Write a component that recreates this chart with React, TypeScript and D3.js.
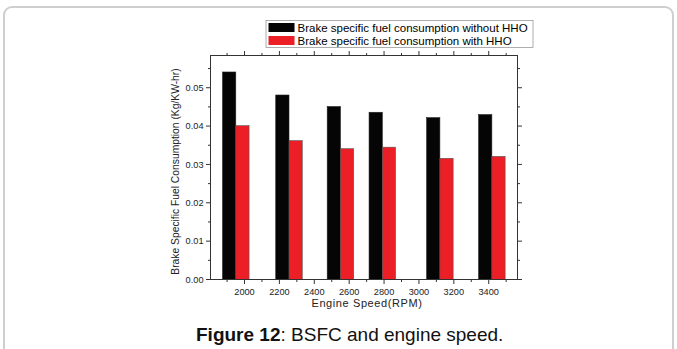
import React from 'react';
import * as d3 from 'd3';

// values
const rpm = [1950, 2255, 2550, 2790, 3120, 3418]; // where each pair of bars meets
const bsfcWithout = [0.0541, 0.0481, 0.0451, 0.0436, 0.0422, 0.043];
const bsfcWith = [0.0401, 0.0362, 0.0341, 0.0345, 0.0316, 0.0321];
const xTickLabels = [2000, 2200, 2400, 2600, 2800, 3000, 3200, 3400];
const yTickLabels = [0, 0.01, 0.02, 0.03, 0.04, 0.05];
const legendLabels = [
  'Brake specific fuel consumption without HHO',
  'Brake specific fuel consumption with HHO',
];

const W = 677;
const H = 349;
const FONT = '"Liberation Sans", Arial, sans-serif';
const BLACK = '#050505';
const RED = '#ec1f26';
const AXIS = '#333';

const plot = { left: 210.5, right: 517.5, top: 55.5, bottom: 279.5 };
const barW = 76; // in rpm units

export default function App() {
  const x = d3.scaleLinear().domain([1805, 3565]).range([plot.left, plot.right]);
  const y = d3.scaleLinear().domain([0, 0.0584]).range([plot.bottom, plot.top]);

  const xMinor = d3.range(1900, 3600, 200);
  const yMinor = d3.range(0.005, 0.058, 0.01);

  return (
    <svg
      width={W}
      height={H}
      style={{ position: 'absolute', left: 0, top: 0, background: '#fff' }}
      fontFamily={FONT}
    >
      {/* page frame */}
      <rect x={4} y={7} width={W - 8} height={H + 20} rx={8} fill="none" stroke="#cfcfcf" strokeWidth={2} />

      {/* bars */}
      {rpm.map((r, i) => (
        <g key={r}>
          <rect
            x={x(r - barW)}
            y={y(bsfcWithout[i])}
            width={x(r) - x(r - barW)}
            height={y(0) - y(bsfcWithout[i])}
            fill={BLACK}
            stroke="#222"
            strokeWidth={0.6}
          />
          <rect
            x={x(r)}
            y={y(bsfcWith[i])}
            width={x(r + barW) - x(r)}
            height={y(0) - y(bsfcWith[i])}
            fill={RED}
            stroke="#555"
            strokeWidth={0.6}
          />
        </g>
      ))}

      {/* frame */}
      <rect
        x={plot.left}
        y={plot.top}
        width={plot.right - plot.left}
        height={plot.bottom - plot.top}
        fill="none"
        stroke={AXIS}
        strokeWidth={1}
      />

      {/* x ticks, bottom and top */}
      {xTickLabels.map((t) => (
        <g key={'xt' + t}>
          <line x1={x(t)} x2={x(t)} y1={plot.bottom} y2={plot.bottom + 4.5} stroke={AXIS} />
          <line x1={x(t)} x2={x(t)} y1={plot.top} y2={plot.top - 4.5} stroke={AXIS} />
          <text x={x(t)} y={plot.bottom + 15} fontSize={9.2} textAnchor="middle" fill="#222">
            {t}
          </text>
        </g>
      ))}
      {xMinor.map((t) => (
        <g key={'xm' + t}>
          <line x1={x(t)} x2={x(t)} y1={plot.bottom} y2={plot.bottom + 2.5} stroke={AXIS} />
          <line x1={x(t)} x2={x(t)} y1={plot.top} y2={plot.top - 2.5} stroke={AXIS} />
        </g>
      ))}

      {/* y ticks, left and right */}
      {yTickLabels.map((t) => (
        <g key={'yt' + t}>
          <line x1={plot.left} x2={plot.left - 4.5} y1={y(t)} y2={y(t)} stroke={AXIS} />
          <line x1={plot.right} x2={plot.right + 4.5} y1={y(t)} y2={y(t)} stroke={AXIS} />
          <text x={plot.left - 7} y={y(t) + 3.2} fontSize={9.2} textAnchor="end" fill="#222">
            {d3.format('.2f')(t)}
          </text>
        </g>
      ))}
      {yMinor.map((t) => (
        <g key={'ym' + t}>
          <line x1={plot.left} x2={plot.left - 2.5} y1={y(t)} y2={y(t)} stroke={AXIS} />
          <line x1={plot.right} x2={plot.right + 2.5} y1={y(t)} y2={y(t)} stroke={AXIS} />
        </g>
      ))}

      {/* axis titles */}
      <text
        x={(plot.left + plot.right) / 2 + 3}
        y={307}
        fontSize={11}
        letterSpacing={0.6}
        textAnchor="middle"
        fill="#222"
      >
        Engine Speed(RPM)
      </text>
      <text
        transform={`translate(179, ${(plot.top + plot.bottom) / 2 + 4}) rotate(-90)`}
        fontSize={10.3}
        textAnchor="middle"
        fill="#222"
      >
        Brake Specific Fuel Consumption (Kg/KW-hr)
      </text>

      {/* legend */}
      <rect x={266} y={20.5} width={267} height={27} fill="#fff" stroke="#999" strokeWidth={0.8} />
      {legendLabels.map((label, i) => (
        <g key={label}>
          <rect x={268.5} y={23 + i * 13} width={26} height={9} fill={i === 0 ? BLACK : RED} />
          <text x={297.5} y={31.5 + i * 13} fontSize={11.5} fill="#000">
            {label}
          </text>
        </g>
      ))}

      {/* caption */}
      <text x={196} y={341} fontSize={19} fill="#111">
        <tspan fontWeight="bold">Figure 12</tspan>: BSFC and engine speed.
      </text>
    </svg>
  );
}
